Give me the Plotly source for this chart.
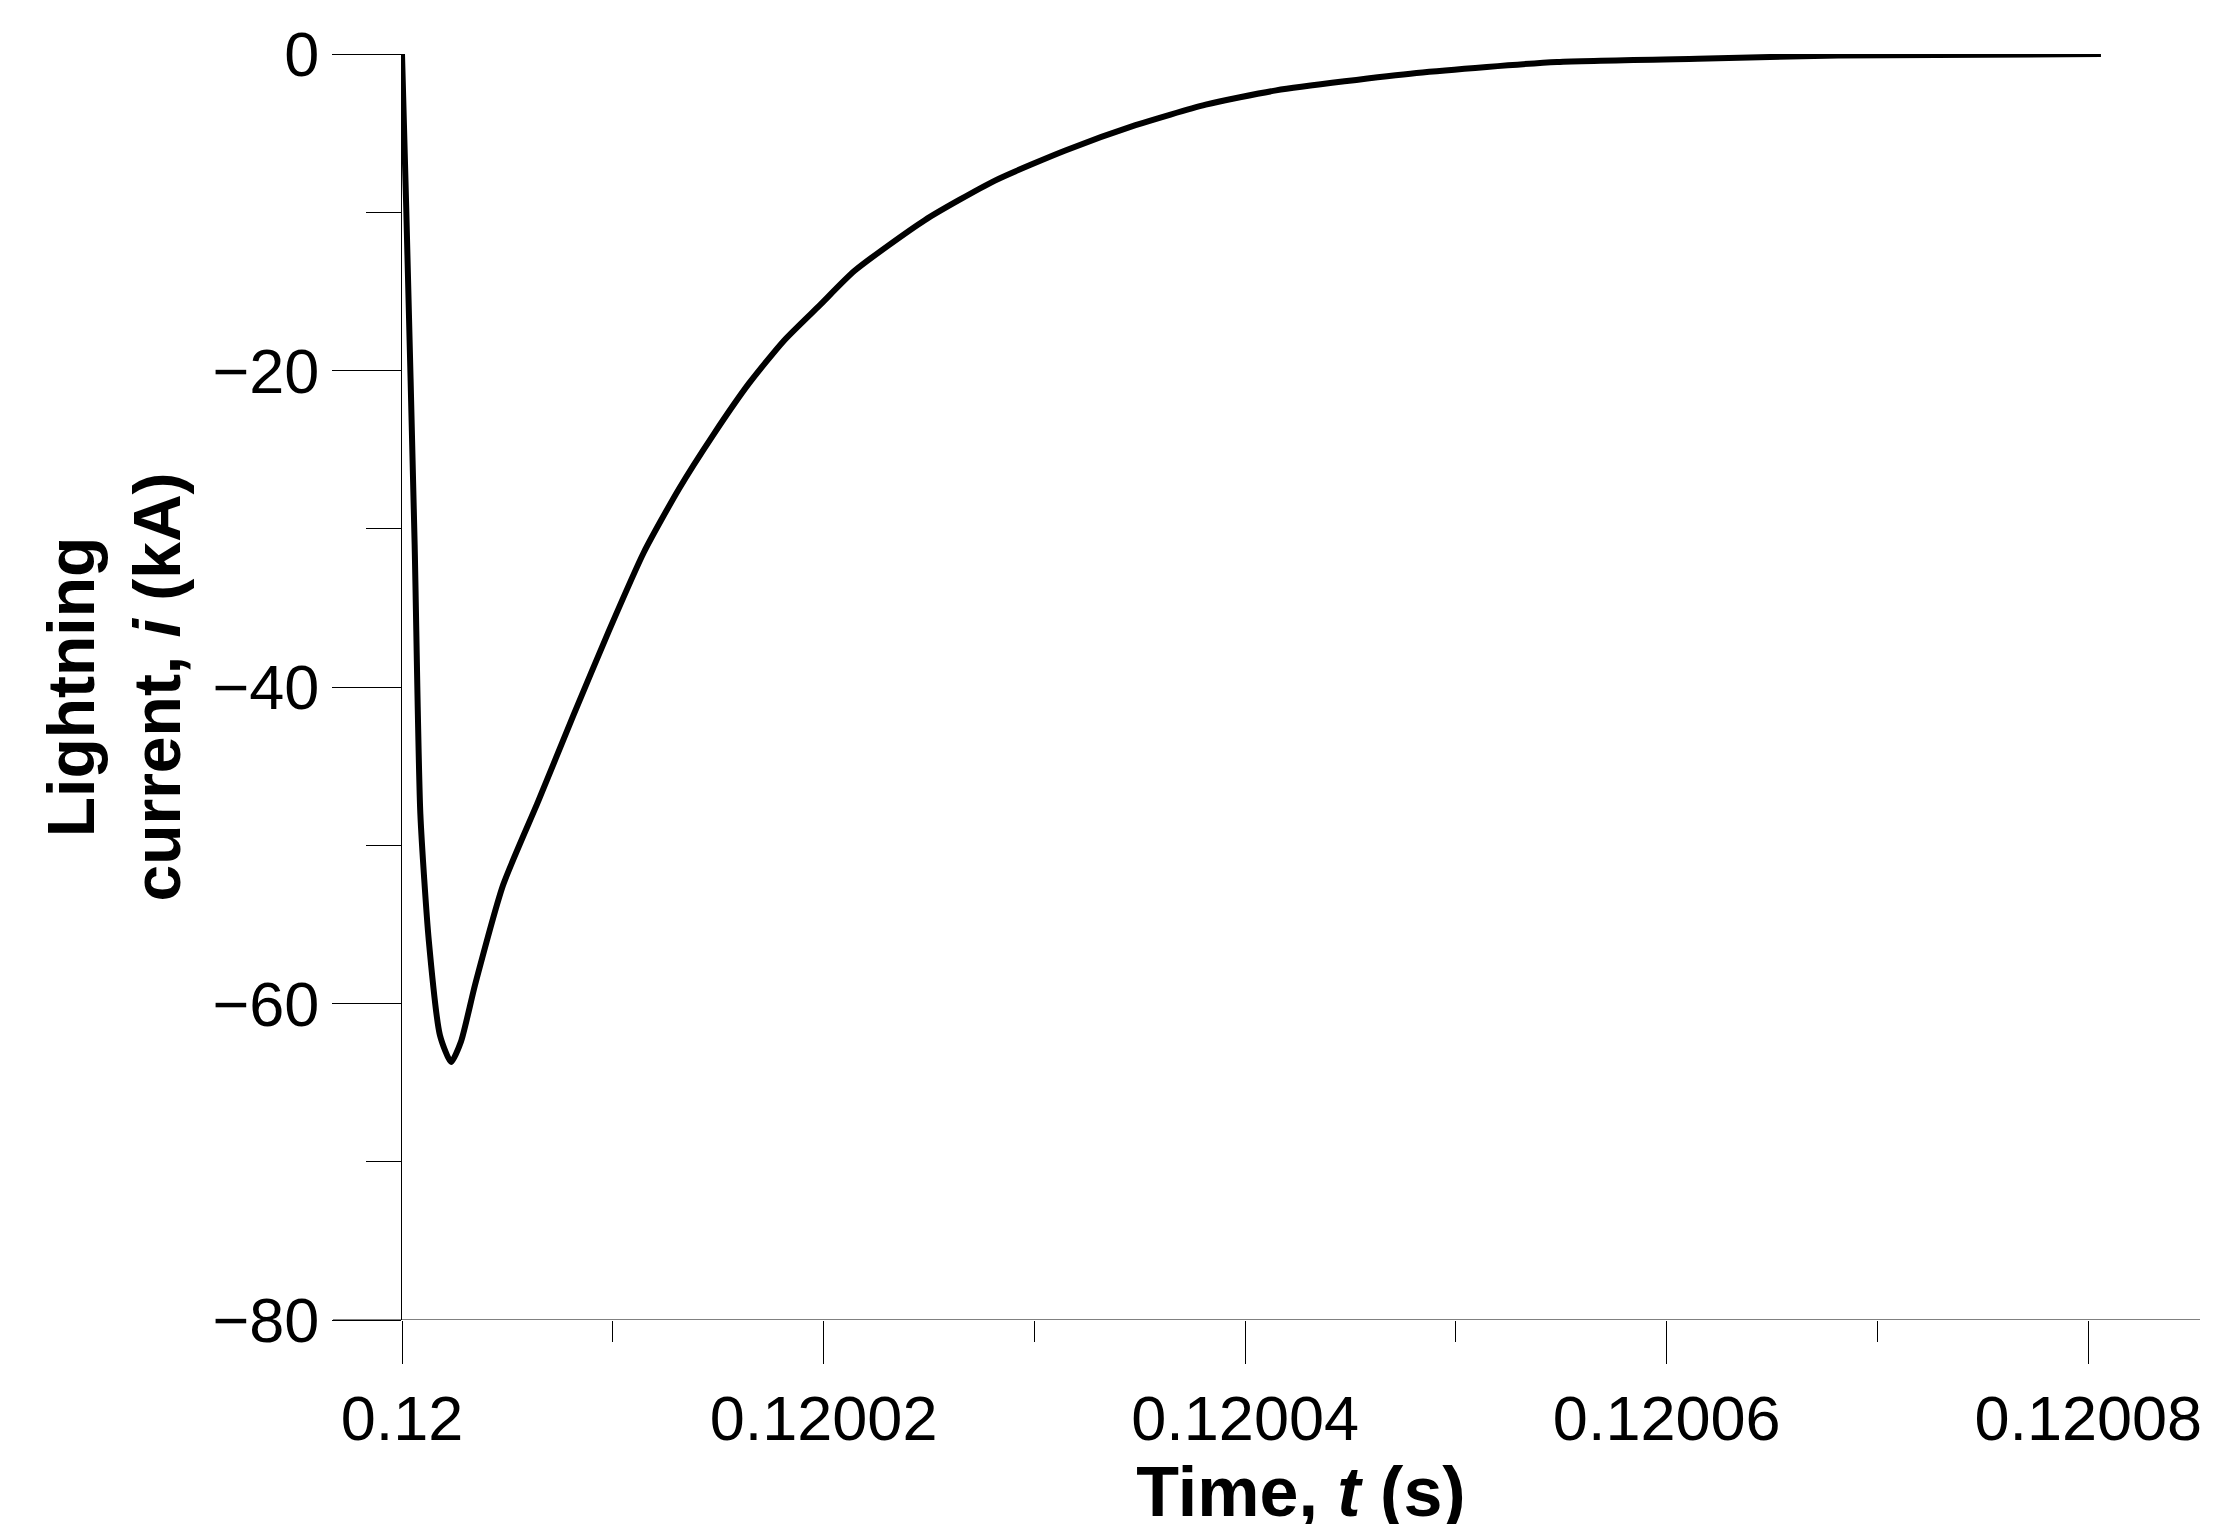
import plotly.graph_objects as go

# time (s) and current (kA)
time_s = [0.12, 0.1200002, 0.1200006, 0.12000087, 0.12000127, 0.1200018, 0.12000233,
          0.1200028, 0.12000347, 0.1200048, 0.12000647, 0.12000813, 0.1200098,
          0.12001147, 0.12001313, 0.1200148, 0.12001647, 0.12001813, 0.1200198,
          0.12002147, 0.1200248, 0.12002813, 0.12003147, 0.1200348, 0.12003813,
          0.12004147, 0.12004813, 0.1200548, 0.12006147, 0.12006813, 0.1200806]
current_ka = [0, -9.7, -31, -48, -56, -62, -63.7, -62.4, -58.8, -52.5, -47.2, -41.8,
              -36.5, -31.5, -27.5, -24, -20.8, -18.1, -15.9, -13.7, -10.5, -8, -6.1,
              -4.5, -3.2, -2.3, -1.2, -0.5, -0.3, -0.1, 0]

x_ticks = [0.12, 0.12002, 0.12004, 0.12006, 0.12008]
x_labels = ["0.12", "0.12002", "0.12004", "0.12006", "0.12008"]

font = "Liberation Sans, Arial, sans-serif"

fig = go.Figure(
    go.Scatter(
        x=time_s,
        y=current_ka,
        mode="lines",
        line=dict(color="black", width=6, shape="spline", smoothing=0.6),
        cliponaxis=False,
        hoverinfo="x+y",
    )
)

fig.update_xaxes(
    range=[0.12, 0.1200853],
    tickvals=x_ticks,
    ticktext=x_labels,
    ticks="outside",
    ticklen=43,
    tickcolor="black",
    tickwidth=1,
    minor=dict(dtick=0.00001, tick0=0.12, ticks="outside", ticklen=21, tickcolor="black"),
    showgrid=False,
    zeroline=False,
    showline=False,
    tickfont=dict(family=font, size=63, color="black"),
    title=dict(text="<b>Time, <i>t</i> (s)</b>", font=dict(family=font, size=70, color="black"), standoff=2),
)
fig.update_yaxes(
    range=[-80, 0],
    dtick=20,
    ticks="outside",
    ticklen=69,
    tickcolor="black",
    tickwidth=1,
    minor=dict(dtick=10, ticks="outside", ticklen=35, tickcolor="black"),
    showgrid=False,
    zeroline=False,
    showline=True,
    linecolor="black",
    linewidth=1,
    tickfont=dict(family=font, size=63, color="black"),
    title=dict(text="<b>Lightning<br>current, <i>i</i> (kA)</b>", font=dict(family=font, size=66, color="black"), standoff=10),
)

# x axis line extends left past the y axis, as in the original
fig.add_shape(type="line", xref="paper", yref="y", x0=-69 / 1798, x1=1, y0=-80, y1=-80,
              line=dict(color="black", width=1))

fig.update_layout(
    width=2219,
    height=1524,
    margin=dict(l=394, r=27, t=46, b=212),
    plot_bgcolor="white",
    paper_bgcolor="white",
    showlegend=False,
)

fig.write_html("out.html")
